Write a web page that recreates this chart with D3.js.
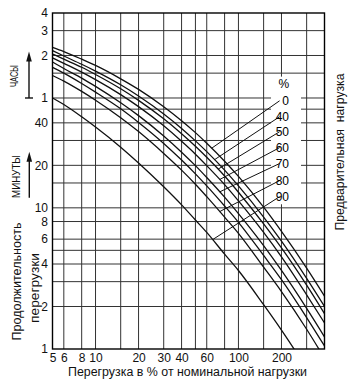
<!DOCTYPE html>
<html><head><meta charset="utf-8">
<script src="https://cdn.jsdelivr.net/npm/d3@7"></script>
<style>
html,body{margin:0;padding:0;background:#fff;}
svg{display:block;font-family:"Liberation Sans",Arial,sans-serif;}
</style></head><body>
<svg id="c" width="355" height="382"></svg>
<script>
// overload, % of nominal load
const overload = [5,6,8,10,15,20,30,40,50,60,80,100,150,200,300,400];
// permissible overload duration, minutes, per preliminary load
const pre0  = [137,128,113,102,82,69,52,41.4,34.1,28.7,21.4,16.7,10.1,6.8,3.74,2.37];
const pre40 = [130,119,104,93,74.4,61.9,46.2,36.5,29.8,25.0,18.5,14.3,8.6,5.8,3.16,2.0];
const pre50 = [123,113,99,88,69.7,57.7,42.7,33.5,27.3,22.8,16.8,12.9,7.7,5.2,2.83,1.78];
const pre60 = [115.5,105.6,91.5,81,63.4,52.1,38.1,29.6,24.0,19.9,14.6,11.2,6.7,4.5,2.42,1.53];
const pre70 = [108,97,83,72.5,55.5,45,32.3,24.8,19.9,16.4,11.9,9.1,5.4,3.6,1.94,1.22];
const pre75 = [99,90,76,66,50.3,40.3,28.6,21.8,17.4,14.3,10.3,7.9,4.6,3.1,1.67,1.05];
const pre80 = [86.6,79,66.8,57.9,43.5,34.7,24.3,18.5,14.7,12.0,8.6,6.6,3.8,2.55,1.38,0.86];
const pre90 = [60,54,44.2,37.4,26.9,20.8,14.1,10.5,8.2,6.7,4.7,3.6,2.06,1.36,0.73];
const seriesList = [pre0,pre40,pre50,pre60,pre70,pre75,pre80,pre90];

// curve labels (preliminary load, %)
const labelText = ["0","40","50","60","70","80","90"];
const labelSeries = [0,1,2,3,4,6,7];
const labelTime = [57.3,44.2,34.6,26.7,20.6,15.6,12.0];
const leaderEnd = [65,68,72,74,74,74,66];

const xGrid = [6,8,10,15,20,30,40,50,60,80,100,150,200,300];
const yGrid = [2,3,4,5,6,8,10,15,20,30,40,50,60,90,120,180];
const xTicks = [5,6,8,10,20,30,40,60,100,200];
const yTicks = [1,2,4,6,8,10,20,40,60,120,180,240];
const yTickText = ["1","2","4","6","8","10","20","40","1","2","3","4"];

const svg = d3.select("#c");
const x = d3.scaleLog().domain([5,400]).range([52.5,324.5]);
const y = d3.scaleLog().domain([1,240]).range([349,13]);
const FONT = '"Liberation Sans",Arial,sans-serif';

// grid
const grid = svg.append("g").attr("stroke","#333").attr("stroke-width",1);
grid.selectAll("line.v").data(xGrid).join("line").attr("class","v")
  .attr("x1",d=>x(d)).attr("x2",d=>x(d)).attr("y1",y(1)).attr("y2",y(240));
grid.selectAll("line.h").data(yGrid).join("line").attr("class","h")
  .attr("x1",x(5)).attr("x2",x(400)).attr("y1",d=>y(d)).attr("y2",d=>y(d));

// white box behind the labels
svg.append("rect").attr("x",x(169)).attr("y",y(85))
  .attr("width",x(274)-x(169)).attr("height",y(10.6)-y(85)).attr("fill","#fff");

// curves
svg.append("clipPath").attr("id","clip").append("rect")
  .attr("x",x(5)).attr("y",y(240)).attr("width",x(400)-x(5)).attr("height",y(1)-y(240));
const line = d3.line().x(d=>x(d[0])).y(d=>y(d[1])).curve(d3.curveMonotoneX);
svg.append("g").attr("clip-path","url(#clip)").selectAll("path").data(seriesList).join("path")
  .attr("d",s=>line(d3.zip(overload,s))).attr("fill","none").attr("stroke","#111").attr("stroke-width",1.3);

function interp(s,p){
  for(let i=0;i<s.length-1;i++){
    if(p>=overload[i]&&p<=overload[i+1]){
      const f=(Math.log(p)-Math.log(overload[i]))/(Math.log(overload[i+1])-Math.log(overload[i]));
      return Math.exp(Math.log(s[i])+f*(Math.log(s[i+1])-Math.log(s[i])));
    }
  }
  return s[s.length-1];
}

// leaders + labels
const lab = svg.append("g");
lab.selectAll("line").data(labelText).join("line")
  .attr("x1",x(194)).attr("y1",(d,i)=>y(labelTime[i]))
  .attr("x2",(d,i)=>x(leaderEnd[i])).attr("y2",(d,i)=>y(interp(seriesList[labelSeries[i]],leaderEnd[i])))
  .attr("stroke","#111").attr("stroke-width",1);
lab.selectAll("text").data(labelText).join("text")
  .attr("x",x(226)).attr("y",(d,i)=>y(labelTime[i])).attr("dy","0.36em")
  .attr("text-anchor","end").attr("font-size",12).text(d=>d);
lab.append("text").attr("x",x(226)).attr("y",y(75.6)).attr("dy","0.36em")
  .attr("text-anchor","end").attr("font-size",12).text("%");

// frame
svg.append("rect").attr("x",x(5)).attr("y",y(240)).attr("width",x(400)-x(5)).attr("height",y(1)-y(240))
  .attr("fill","none").attr("stroke","#000").attr("stroke-width",1.4);

// axes
const ya = svg.append("g").attr("transform",`translate(${x(5)},0)`)
  .call(d3.axisLeft(y).tickValues(yTicks).tickFormat(d=>yTickText[yTicks.indexOf(d)]).tickSize(0).tickPadding(4.5));
ya.select(".domain").remove();
ya.attr("font-size",12).attr("font-family",FONT).selectAll("text").attr("fill","#111");
const xa = svg.append("g").attr("transform",`translate(0,${y(1)})`)
  .call(d3.axisBottom(x).tickValues(xTicks).tickFormat(d=>String(d)).tickSize(0).tickPadding(4.5));
xa.select(".domain").remove();
xa.attr("font-size",12).attr("font-family",FONT).selectAll("text").attr("fill","#111");

// titles
svg.append("text").attr("x",187.5).attr("y",375.5).attr("text-anchor","middle")
  .attr("font-size",12.5).attr("textLength",239).attr("lengthAdjust","spacingAndGlyphs")
  .attr("fill","#111").text("Перегрузка в % от номинальной нагрузки");
function vtext(tx,ty,size,len,str){
  svg.append("text").attr("transform",`translate(${tx},${ty}) rotate(-90)`)
    .attr("text-anchor","middle").attr("font-size",size)
    .attr("textLength",len).attr("lengthAdjust","spacingAndGlyphs")
    .attr("fill","#111").style("white-space","pre").text(str);
}
vtext(344,152,13,157,"Предварительная  нагрузка");
vtext(20.5,281.5,13,118,"Продолжительность");
vtext(39,288,13,70,"перегрузки");
vtext(18.2,76,10,22,"ЧАСЫ");
vtext(20,176.5,10.5,43,"МИНУТЫ");

// arrows
function arrow(ax,tFrom,tTo,base){
  const y0=y(tFrom), y1=y(tTo);
  svg.append("line").attr("x1",ax).attr("x2",ax).attr("y1",y0).attr("y2",y1+6)
    .attr("stroke","#111").attr("stroke-width",1.4);
  svg.append("path").attr("d",`M${ax},${y1} L${ax-2.8},${y1+10} L${ax+2.8},${y1+10} Z`).attr("fill","#111");
  if(base) svg.append("line").attr("x1",ax-4).attr("x2",ax+4).attr("y1",y0).attr("y2",y0)
    .attr("stroke","#111").attr("stroke-width",1.4);
}
arrow(29,60,128,true);
arrow(29.3,11.8,25,false);
</script>
</body></html>
